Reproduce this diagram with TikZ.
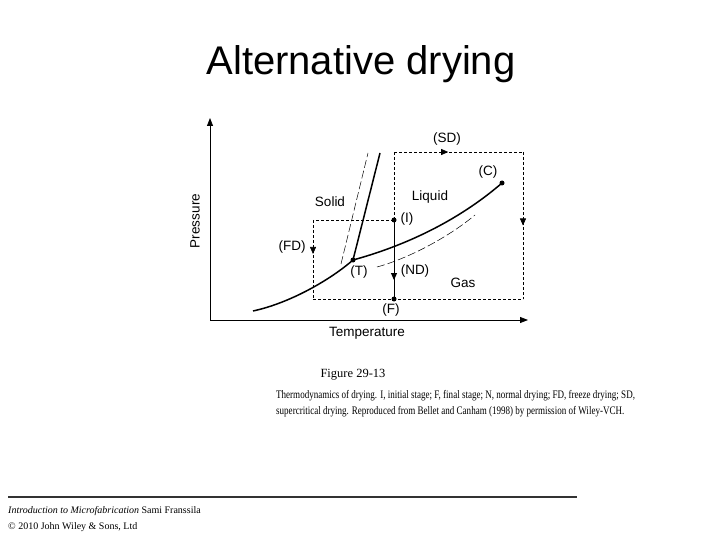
\documentclass[tikz,border=0pt]{standalone}
\usepackage{fontspec}
\setmainfont{Liberation Sans}
\newfontfamily\capfont{Liberation Serif}
\newfontfamily\capnarrow[FakeStretch=0.785]{Liberation Serif}
\usetikzlibrary{arrows.meta,decorations.markings}

\begin{document}
\begin{tikzpicture}[x=1pt,y=-1pt,
  dot/.style={circle,fill=black,inner sep=0pt,minimum size=5},
  lbl/.style={font=\fontsize{13.5}{15}\selectfont,inner sep=0pt},
  route/.style={dash pattern=on 3pt off 2pt,line width=.7pt},
  curve/.style={line width=1.5pt},
  ghost/.style={dash pattern=on 8pt off 3pt,line width=.5pt},
  capline/.style={anchor=west,inner sep=0pt,font=\capnarrow\fontsize{11.5}{14}\selectfont},
  midarrow/.style={postaction={decorate},decoration={markings,
    mark=at position #1 with {\arrow{Triangle[length=7pt,width=6pt]}}}}]

\useasboundingbox (0,0) rectangle (720,540);

% title
\node (title) at (361,64) {\fontsize{40}{46}\selectfont Alternative drying};

% axes
\coordinate (o) at (210,320);
\coordinate (ytop) at (210,118);
\coordinate (xend) at (528,320);
\draw[line width=.8pt,-{Triangle[length=8pt,width=6pt]}] (o) -- (ytop);
\draw[line width=.8pt,-{Triangle[length=8pt,width=6pt]}] (o) -- (xend);
\node[lbl,rotate=90] (pres) at (195,221) {Pressure};
\node[lbl] (temp) at (367,333) {Temperature};

% points
\node[dot] (T) at (353,260) {};
\node[dot] (C) at (502,183) {};
\node[dot] (I) at (394,220) {};
\node[dot] (F) at (394,299) {};

% phase boundaries
\coordinate (sub) at (253,311);
\coordinate (melt) at (380,153);
\draw[curve] (sub) .. controls (290,303) and (330,280) .. (T.center);
\draw[curve] (T.center) -- (melt);
\draw[curve] (T.center) .. controls (415,243) and (465,215) .. (C.center);

% shifted boundaries
\coordinate (gm1) at (341,264);
\coordinate (gm2) at (368,153);
\coordinate (gv1) at (377,267);
\coordinate (gv2) at (475,215);
\draw[ghost] (gm1) -- (gm2);
\draw[ghost] (gv1) .. controls (410,258) and (450,236) .. (gv2);

% drying routes
\coordinate (fdtop) at (313,220);
\coordinate (fdbot) at (313,299);
\coordinate (sdtl) at (394,152);
\coordinate (sdtr) at (523,152);
\coordinate (sdbr) at (523,299);
\draw[route] (I.center) -- (fdtop);
\draw[route,midarrow=.43] (fdtop) -- (fdbot);
\draw[route] (fdbot) -- (sdbr);
\draw[route] (I.center) -- (sdtl);
\draw[route,midarrow=.42] (sdtl) -- (sdtr);
\draw[route,midarrow=.5] (sdtr) -- (sdbr);
\draw[line width=.9pt,midarrow=.76] (I.center) -- (F.center);

% labels
\node[lbl] (lsd) at (447,139) {(SD)};
\node[lbl] (lc) at (488,172) {(C)};
\node[lbl] (lliq) at (430,197) {Liquid};
\node[lbl] (lsol) at (330,202) {Solid};
\node[lbl] (li) at (407,219) {(I)};
\node[lbl] (lfd) at (292,247) {(FD)};
\node[lbl] (lt) at (359,272) {(T)};
\node[lbl] (lnd) at (415,271) {(ND)};
\node[lbl] (lgas) at (463,283) {Gas};
\node[lbl] (lf) at (391,310) {(F)};

% caption
\node[font=\capfont\fontsize{12.5}{15}\selectfont] (fig) at (353,375) {Figure 29-13};
\node[capline] (cap1) at (276,396)
  {Thermodynamics of drying. I, initial stage; F, final stage; N, normal drying; FD, freeze drying; SD,};
\node[capline] (cap2) at (276,412)
  {supercritical drying. Reproduced from Bellet and Canham (1998) by permission of Wiley-VCH.};

% footer
\coordinate (rl) at (8,497);
\coordinate (rr) at (577,497);
\draw[line width=1.8pt,black!80] (rl) -- (rr);
\node[anchor=west,inner sep=0pt,font=\capfont\fontsize{10}{12}\selectfont] (book) at (8,511)
  {\textit{Introduction to Microfabrication} Sami Franssila};
\node[anchor=west,inner sep=0pt,font=\capfont\fontsize{10}{12}\selectfont] (copy) at (8,527)
  {\textcopyright{} 2010 John Wiley \& Sons, Ltd};

\end{tikzpicture}
\end{document}
